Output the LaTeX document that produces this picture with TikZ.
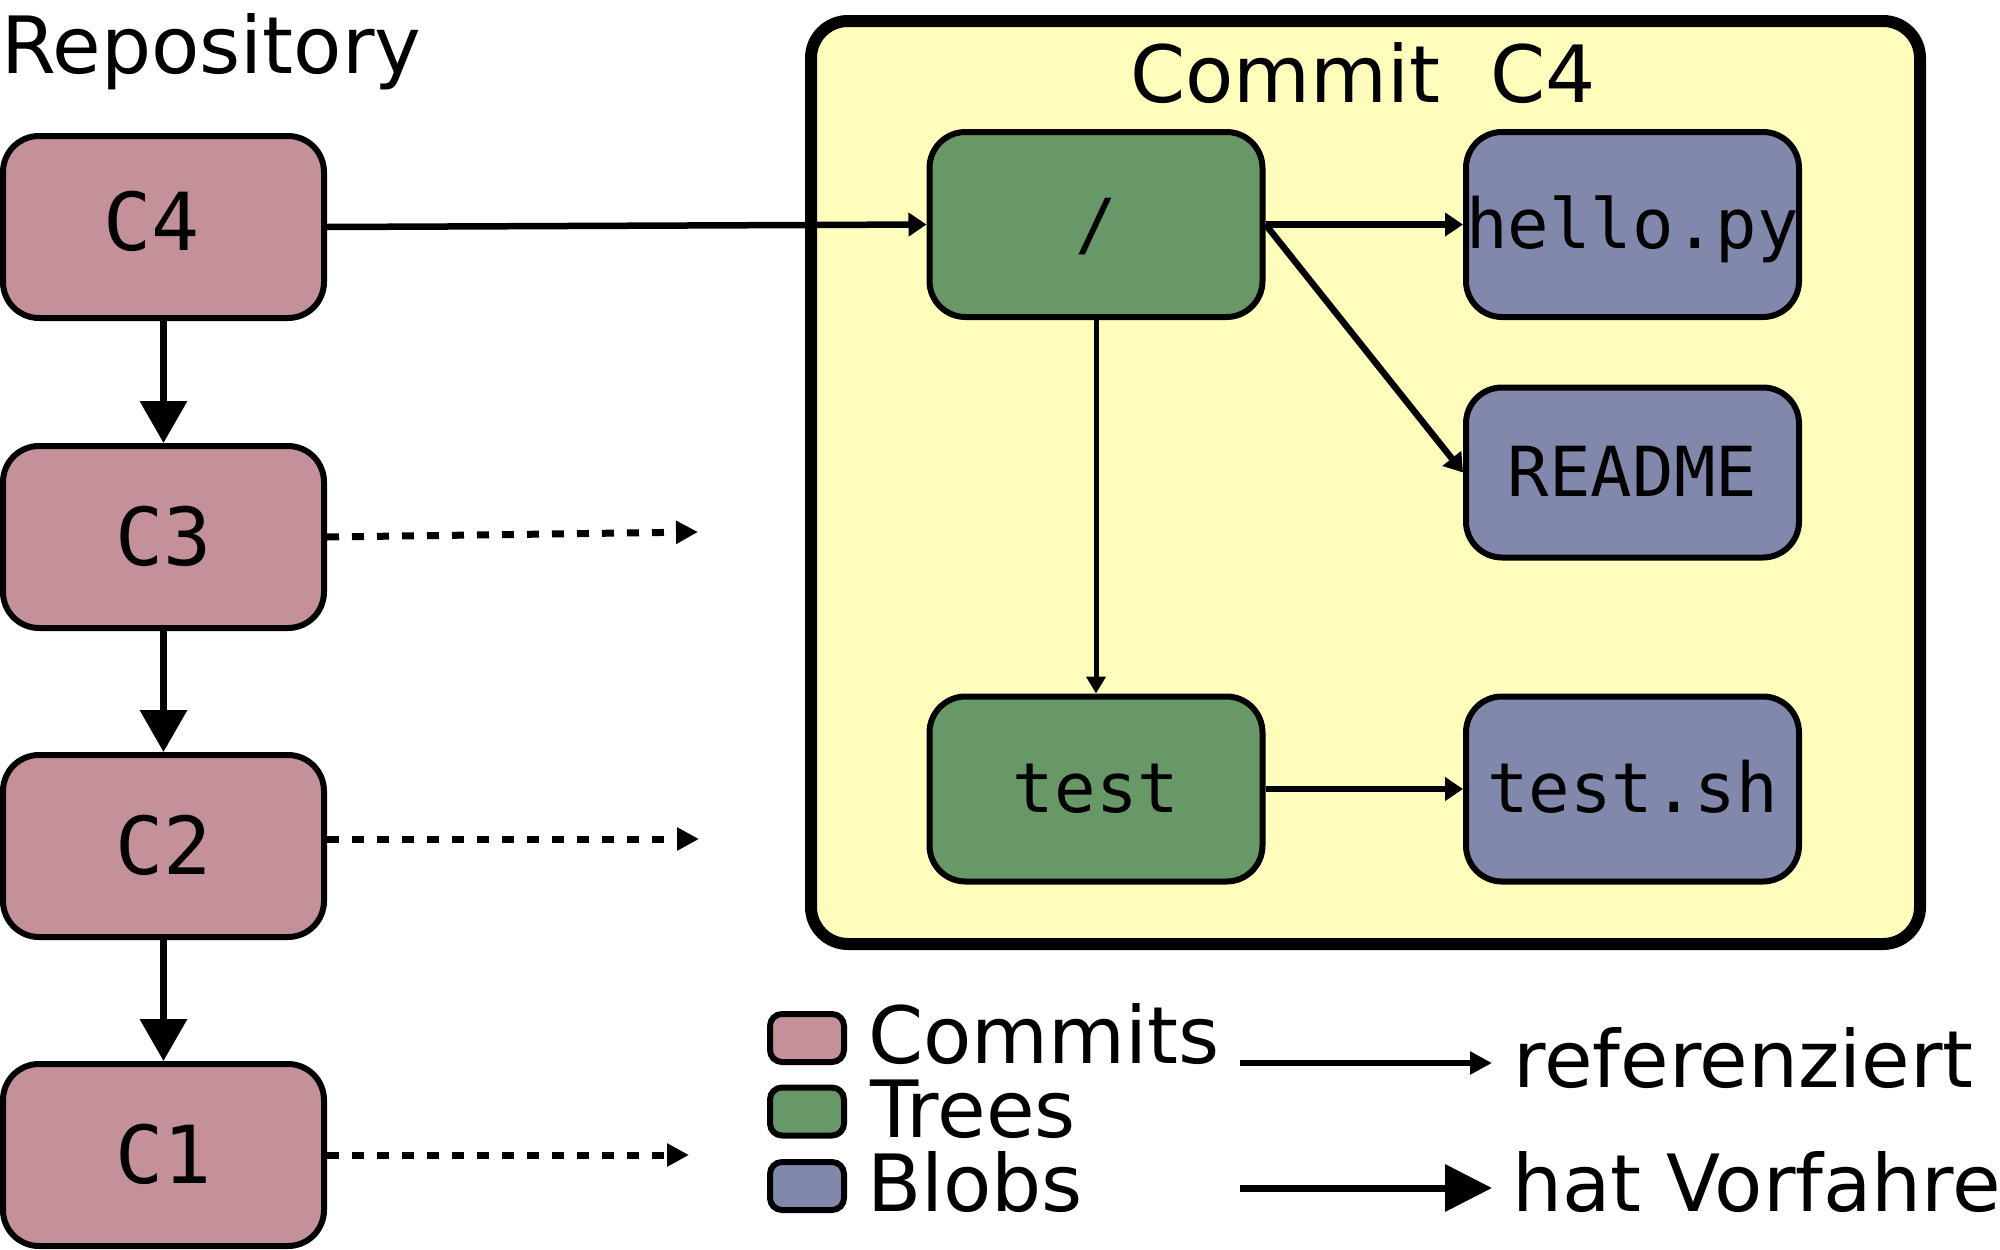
\documentclass[tikz,border=0pt]{standalone}
\usepackage{fontspec}
\setmainfont{DejaVu Sans}
\newfontfamily\boxmono{DejaVu Sans Mono}
\usetikzlibrary{arrows.meta}
\definecolor{commitfill}{HTML}{C4909A}
\definecolor{treefill}{HTML}{699868}
\definecolor{blobfill}{HTML}{8288AC}
\definecolor{framefill}{HTML}{FFFDBB}
\begin{document}
\begin{tikzpicture}[x=1pt,y=-1pt,
  objbox/.style={draw, line width=6pt, rounded corners=36pt, inner sep=0pt, text depth=0pt},
  commitbox/.style={objbox, fill=commitfill, minimum width=321pt, minimum height=182pt,
    font=\boxmono\fontsize{80}{96}\selectfont, text height=56pt},
  treebox/.style={objbox, fill=treefill, minimum width=333pt, minimum height=185pt,
    font=\boxmono\fontsize{69}{83}\selectfont, text height=47pt},
  blobbox/.style={treebox, fill=blobfill},
  framebox/.style={draw, line width=12pt, rounded corners=37pt, fill=framefill, inner sep=0pt},
  legendbox/.style={draw, line width=6pt, rounded corners=12pt, minimum width=74pt, minimum height=48pt, inner sep=0pt},
  sanstext/.style={anchor=base west, inner sep=0pt, font=\fontsize{79}{95}\selectfont},
  reflink/.style={line width=6.5pt, -{Triangle[length=18pt,width=23pt]}},
  parentlink/.style={line width=7pt, -{Triangle[length=42pt,width=46pt]}},
  dashlink/.style={line width=7pt, dash pattern=on 12pt off 13pt, -{Triangle[length=22pt,width=22pt]}}
]
\useasboundingbox (0,0) rectangle (2000,1250);

% title
\node[sanstext] (repo) at (1,73) {Repository};

% commit frame
\node[framebox, minimum width=1109pt, minimum height=923pt] (frame) at (1365.5,482.5) {};
\node[anchor=base, inner sep=0pt, font=\fontsize{79}{95}\selectfont] (ctitle) at (1363,102) {Commit\ \ C4};

% commits
\node[commitbox] (c4) at (163.5,227) {\raisebox{5pt}{C4}\hspace{24pt}\mbox{}};
\node[commitbox] (c3) at (163.5,537) {C3};
\node[commitbox] (c2) at (163.5,846) {C2};
\node[commitbox] (c1) at (163.5,1155) {C1};

% trees and blobs
\node[treebox] (root) at (1096,224.5) {/};
\node[blobbox] (hello) at (1632.5,224.5) {hello.py};
\node[blobbox, minimum height=170pt] (readme) at (1632.5,472.5) {README};
\node[treebox] (test) at (1096,789) {test};
\node[blobbox] (testsh) at (1632.5,789) {test.sh};

% parent links
\draw[parentlink] (c4.south) -- (c3.north);
\draw[parentlink] (c3.south) -- (c2.north);
\draw[parentlink] (c2.south) -- (c1.north);

% references
\draw[reflink] (c4.east) -- (root.west);
\draw[reflink] (root.east) -- (hello.west);
\draw[reflink] (root.east) -- (readme.west);
\draw[reflink, line width=5pt, -{Triangle[length=17pt,width=19pt]}] (root.south) -- (test.north);
\draw[reflink] (test.east) -- (testsh.west);

% dashed references to other trees
\coordinate (d3) at (698,532);
\coordinate (d2) at (699,839);
\coordinate (d1) at (689,1155);
\draw[dashlink] (c3.east) -- (d3);
\draw[dashlink] (c2.east |- d2) -- (d2);
\draw[dashlink] (c1.east) -- (d1);

% legend
\node[legendbox, fill=commitfill] (lcommit) at (807,1038) {};
\node[legendbox, fill=treefill] (ltree) at (807,1111.5) {};
\node[legendbox, fill=blobfill] (lblob) at (807,1186) {};
\node[sanstext] (tcommit) at (868,1063) {Commits};
\node[sanstext] (ttree) at (870,1137.5) {Trees};
\node[sanstext] (tblob) at (867,1211.5) {Blobs};

\coordinate (ra) at (1240,1063);
\coordinate (rb) at (1492,1063);
\coordinate (pa) at (1240,1188);
\coordinate (pb) at (1492,1188);
\draw[line width=6.5pt, -{Triangle[length=22pt,width=22pt]}] (ra) -- (rb);
\draw[parentlink, -{Triangle[length=47pt,width=46pt]}] (pa) -- (pb);
\node[sanstext] (tref) at (1513,1087) {referenziert};
\node[sanstext] (tpar) at (1512,1211) {hat Vorfahre};
\end{tikzpicture}
\end{document}
